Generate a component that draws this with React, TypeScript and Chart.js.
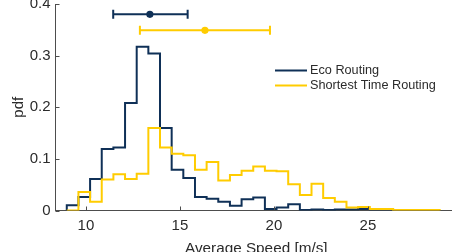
import React, { useEffect, useRef } from 'react';
import { Chart, registerables } from 'chart.js';

Chart.register(...registerables);

// ---- data ----
const binEdges = [
  8.98, 9.6, 10.22, 10.84, 11.46, 12.08, 12.7, 13.32, 13.94, 14.56, 15.18,
  15.8, 16.42, 17.04, 17.66, 18.28, 18.9, 19.52, 20.14, 20.76, 21.38, 22.0,
  22.62, 23.24, 23.86, 24.48, 25.1, 25.72, 26.34, 26.96, 27.58, 28.2, 28.82,
];

const ecoPdf = [
  0.01, 0.026, 0.061, 0.119, 0.122, 0.208, 0.317, 0.304, 0.16, 0.079, 0.063,
  0.026, 0.023, 0.017, 0.009, 0.022, 0.025, 0.003, 0.006, 0.012, 0.001, 0.002,
  0.001, 0.002, 0.002, 0.003, 0.002, 0.002,
];

const shortestPdf = [
  0.0, 0.036, 0.017, 0.06, 0.07, 0.061, 0.071, 0.16, 0.122, 0.11, 0.107, 0.079,
  0.094, 0.058, 0.069, 0.077, 0.085, 0.077, 0.076, 0.051, 0.03, 0.052, 0.024,
  0.017, 0.006, 0.007, 0.003, 0.003, 0.001, 0.001, 0.001, 0.001,
];

const seriesNames = ['Eco Routing', 'Shortest Time Routing'];
const seriesColors = ['#0f3057', '#ffcc00'];

// mean ± spread markers drawn above the histograms
const errMean = [13.4, 16.33];
const errLow = [11.45, 12.87];
const errHigh = [15.41, 19.79];
const errLevel = [0.38, 0.349];

const xTickValues = [10, 15, 20, 25];
const yTickValues = [0, 0.1, 0.2, 0.3, 0.4];

const FONT = '"Liberation Sans", Arial, Helvetica, sans-serif';
const TEXT = '#2b2b2b';
const AXIS = '#4d4d4d';

function stairPoints(edges: number[], values: number[]) {
  const pts: { x: number; y: number }[] = [{ x: edges[0], y: 0 }];
  values.forEach((v, i) => pts.push({ x: edges[i], y: v }));
  pts.push({ x: edges[values.length], y: 0 });
  return pts;
}

const overlayPlugin = {
  id: 'overlay',
  afterDatasetsDraw(chart: any) {
    const { ctx, chartArea, scales } = chart;
    const xs = scales.x;
    const ys = scales.y;
    ctx.save();
    // inward tick marks
    ctx.strokeStyle = AXIS;
    ctx.lineWidth = 1;
    ctx.beginPath();
    xTickValues.forEach((v) => {
      const px = Math.round(xs.getPixelForValue(v)) + 0.5;
      ctx.moveTo(px, chartArea.bottom);
      ctx.lineTo(px, chartArea.bottom - 4);
    });
    yTickValues.forEach((v) => {
      const py = Math.round(ys.getPixelForValue(v)) + 0.5;
      ctx.moveTo(chartArea.left, py);
      ctx.lineTo(chartArea.left + 4, py);
    });
    ctx.stroke();

    // error bars
    errMean.forEach((m, i) => {
      const y = ys.getPixelForValue(errLevel[i]);
      const x0 = xs.getPixelForValue(errLow[i]);
      const x1 = xs.getPixelForValue(errHigh[i]);
      const xm = xs.getPixelForValue(m);
      ctx.strokeStyle = seriesColors[i];
      ctx.fillStyle = seriesColors[i];
      ctx.lineWidth = 2;
      ctx.beginPath();
      ctx.moveTo(x0, y);
      ctx.lineTo(x1, y);
      ctx.moveTo(x0, y - 4.5);
      ctx.lineTo(x0, y + 4.5);
      ctx.moveTo(x1, y - 4.5);
      ctx.lineTo(x1, y + 4.5);
      ctx.stroke();
      ctx.beginPath();
      ctx.arc(xm, y, 3.6, 0, Math.PI * 2);
      ctx.fill();
    });

    // legend
    const lx = chartArea.left + 219.5;
    const ly = [chartArea.top + 66.5, chartArea.top + 81.5];
    ctx.font = '12.7px ' + FONT;
    ctx.textBaseline = 'middle';
    ctx.textAlign = 'left';
    seriesNames.forEach((name, i) => {
      ctx.strokeStyle = seriesColors[i];
      ctx.lineWidth = 2;
      ctx.beginPath();
      ctx.moveTo(lx, ly[i]);
      ctx.lineTo(lx + 32, ly[i]);
      ctx.stroke();
      ctx.fillStyle = TEXT;
      ctx.fillText(name, lx + 35, ly[i]);
    });
    ctx.restore();
  },
};

export default function App() {
  const ref = useRef<HTMLCanvasElement | null>(null);

  useEffect(() => {
    if (!ref.current) return;
    const chart = new Chart(ref.current, {
      type: 'line',
      data: {
        datasets: [
          {
            label: seriesNames[0],
            data: stairPoints(binEdges, ecoPdf),
            borderColor: seriesColors[0],
            borderWidth: 2,
            pointRadius: 0,
            stepped: 'before',
            fill: false,
            order: 1,
          },
          {
            label: seriesNames[1],
            data: stairPoints(binEdges, shortestPdf),
            borderColor: seriesColors[1],
            borderWidth: 2,
            pointRadius: 0,
            stepped: 'before',
            fill: false,
            order: 0,
          },
        ],
      },
      options: {
        responsive: false,
        animation: false,
        events: [],
        layout: { padding: { left: 3.5, top: 12, right: 0, bottom: 8 } },
        plugins: {
          legend: { display: false },
          tooltip: { enabled: false },
          title: { display: false },
        },
        scales: {
          x: {
            type: 'linear',
            min: 8.38,
            max: 29.74,
            afterBuildTicks: (s: any) => {
              s.ticks = xTickValues.map((v) => ({ value: v }));
            },
            afterFit: (s: any) => {
              s.height = 51.5;
            },
            grid: { display: false, drawTicks: false },
            border: { display: true, color: AXIS, width: 1 },
            ticks: {
              color: TEXT,
              font: { family: FONT, size: 15 },
              padding: 6,
              maxRotation: 0,
              callback: (v: any) => String(v),
            },
            title: {
              display: true,
              text: 'Average Speed [m/s]',
              color: TEXT,
              font: { family: FONT, size: 15.3 },
              padding: { top: 4, bottom: 4 },
            },
          },
          y: {
            type: 'linear',
            min: 0,
            max: 0.4,
            afterBuildTicks: (s: any) => {
              s.ticks = yTickValues.map((v) => ({ value: v }));
            },
            afterFit: (s: any) => {
              s.width = 52;
            },
            grid: { display: false, drawTicks: false },
            border: { display: true, color: AXIS, width: 1 },
            ticks: {
              color: TEXT,
              font: { family: FONT, size: 15 },
              padding: 5,
              callback: (v: any) => (v === 0 ? '0' : Number(v).toFixed(1)),
            },
            title: {
              display: true,
              text: 'pdf',
              color: TEXT,
              font: { family: FONT, size: 15 },
              padding: { top: 6, bottom: 4 },
            },
          },
        },
      },
      plugins: [overlayPlugin],
    });
    return () => chart.destroy();
  }, []);

  return (
    <div
      style={{
        position: 'fixed',
        left: 0,
        top: 0,
        width: 452,
        height: 252,
        overflow: 'hidden',
        background: '#fff',
      }}
    >
      <canvas
        ref={ref}
        width={457}
        height={280}
        style={{ position: 'absolute', left: 0, top: -10, width: 457, height: 280, display: 'block' }}
      />
    </div>
  );
}
